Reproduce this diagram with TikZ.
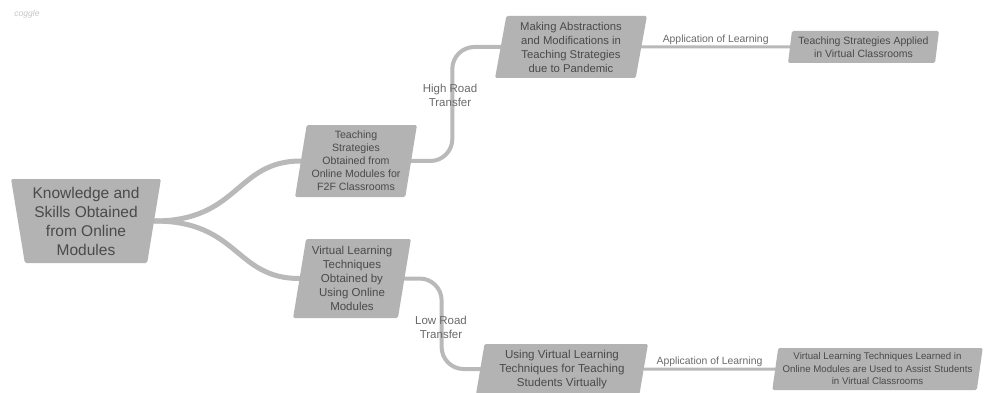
\documentclass[tikz,border=0pt]{standalone}
\usepackage{fontspec}
\setmainfont{Liberation Sans}
\usetikzlibrary{shapes.geometric}
\pgfdeclarelayer{paper}
\pgfdeclarelayer{links}
\pgfsetlayers{paper,links,main}
\definecolor{nodegray}{HTML}{B3B3B3}
\definecolor{txtgray}{HTML}{4A4A4A}
\definecolor{linegray}{HTML}{B9B9B9}
\definecolor{lblgray}{HTML}{6A6A6A}
\tikzset{
  box/.style={trapezium, trapezium stretches=true, fill=nodegray, text=txtgray,
    align=center, inner sep=0pt, rounded corners=1.5pt},
  lean/.style={trapezium left angle=80, trapezium right angle=100},
  conn/.style={draw=linegray, line cap=round},
  lbl/.style={text=lblgray, align=center, font=\fontsize{11.5}{14}\selectfont},
  applbl/.style={text=lblgray, font=\fontsize{10.4}{12}\selectfont, inner sep=1pt}
}
\begin{document}
\begin{tikzpicture}[x=1pt,y=-1pt]
\useasboundingbox (0,0) rectangle (984,393);
\begin{pgfonlayer}{paper}
\fill[white] (0,0) rectangle (984,393);
\end{pgfonlayer}
\node[text=gray!45, font=\itshape\fontsize{8.5}{9}\selectfont] (logo) at (27,14) {coggle};
\node[box, minimum width=150pt, minimum height=84pt, trapezium left angle=100, trapezium right angle=100,
  font=\fontsize{15.5}{19}\selectfont] (root) at (86,221) {Knowledge and\\Skills Obtained\\from Online\\Modules};
\node[box, lean, minimum width=122pt, minimum height=72pt, font=\fontsize{10.6}{13}\selectfont]
  (teach) at (356,161) {Teaching\\Strategies\\Obtained from\\Online Modules for\\F2F Classrooms};
\node[box, lean, minimum width=118pt, minimum height=79pt, font=\fontsize{11.5}{14}\selectfont]
  (virtual) at (352,278.5) {Virtual Learning\\Techniques\\Obtained by\\Using Online\\Modules};
\node[box, lean, minimum width=152pt, minimum height=62pt, font=\fontsize{11.3}{14}\selectfont]
  (making) at (571,47) {Making Abstractions\\and Modifications in\\Teaching Strategies\\due to Pandemic};
\node[box, lean, minimum width=151pt, minimum height=32pt, font=\fontsize{10.5}{12.5}\selectfont]
  (applied) at (863.5,47) {Teaching Strategies Applied\\in Virtual Classrooms};
\node[box, lean, minimum width=172pt, minimum height=50pt, font=\fontsize{11.6}{14}\selectfont]
  (using) at (562,369) {Using Virtual Learning\\Techniques for Teaching\\Students Virtually};
\node[box, lean, minimum width=211pt, minimum height=42pt, font=\fontsize{9.7}{12.5}\selectfont]
  (last) at (877.5,369) {Virtual Learning Techniques Learned in\\Online Modules are Used to Assist Students\\in Virtual Classrooms};
\begin{pgfonlayer}{links}
\draw[conn, line width=5pt] (root.east) .. controls +(85,0) and +(-65,0) .. (teach.west);
\draw[conn, line width=5pt] (root.east) .. controls +(85,0) and +(-65,0) .. (virtual.west);
\draw[conn, line width=4pt, rounded corners=22pt] (teach.east) -- ++(41,0) |- (making.west);
\draw[conn, line width=4pt, rounded corners=22pt] (virtual.east) -- ++(37,0) |- (using.west);
\draw[conn, line width=3pt] (making.east) -- node[above, applbl] (al1) {Application of Learning} (applied.west);
\draw[conn, line width=3pt] (using.east) -- node[above, applbl] (al2) {Application of Learning} (last.west);
\end{pgfonlayer}
\node[lbl] (hr) at (450,95) {High Road\\Transfer};
\node[lbl] (lr) at (441,327.5) {Low Road\\Transfer};
\end{tikzpicture}
\end{document}
